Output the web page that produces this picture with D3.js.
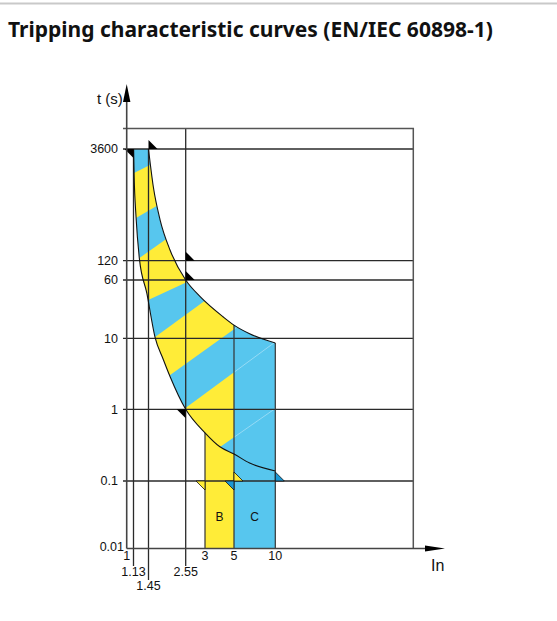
<!DOCTYPE html>
<html><head><meta charset="utf-8">
<script src="https://cdn.jsdelivr.net/npm/d3@7"></script>
<style>
body{margin:0;background:#fff;}
svg{display:block;}
</style></head><body>
<svg id="chart" width="557" height="621"></svg>
<script>
// ---------- data ----------
const title = "Tripping characteristic curves (EN/IEC 60898-1)";
const yAxisTitle = "t (s)";
const xAxisTitle = "In";
const xTickValues = [1, 1.13, 1.45, 2.55, 3, 5, 10];
const xTickLabels = ["1", "1.13", "1.45", "2.55", "3", "5", "10"];
const xTickRows   = [0, 1, 2, 1, 0, 0, 0];
const yTickValues = [3600, 120, 60, 10, 1, 0.1, 0.01];
const yTickLabels = ["3600", "120", "60", "10", "1", "0.1", "0.01"];
// lower (non-tripping) limit of thermal band, [I/In, t s]
const leftCurve = [[1.13,3600],[1.14,1730],[1.18,440],[1.245,130],[1.41,40],[1.6,10.4],[1.82,4.95],[2.01,2.9],[2.55,1],[3,0.47],[3.9,0.3],[5,0.238],[6.5,0.178],[10,0.138]];
// upper (tripping) limit of thermal band
const rightCurve = [[1.45,3600],[1.56,1140],[1.73,414],[2.01,166],[2.55,60],[2.88,36],[4.12,19.4],[5,15],[6.5,11.5],[10,8.6]];
// diagonal stripe boundaries inside the band (B / C overlap)
const stripeBounds = [
  [[1.14,1730],[1.445,2150]],
  [[1.18,440],[1.6,615]],
  [[1.245,130],[1.815,218]],
  [[1.445,32.4],[2.58,56.4]],
  [[1.6,10.4],[2.95,30.5]],
  [[2.01,3.04],[4.91,12.9]],
  [[2.52,1.03],[4.91,3.24]],
  [[3.91,0.298],[4.91,0.398]]
];
const curveB = {label: "B", from: 3, to: 5};
const curveC = {label: "C", from: 5, to: 10};
// reference lines [I, row of label]
const refLines = [[1.13, 1], [1.45, 2], [2.55, 1]];
// markers: [I, t, shape, colour]
const markers = [
  [1.13, 3600, "down", "black"],
  [1.45, 3600, "up", "black"],
  [2.55, 120, "up", "black"],
  [2.55, 60, "up", "black"],
  [2.55, 1, "down", "black"],
  [3, 0.1, "down", "yellow"],
  [5, 0.1, "down", "blue"],
  [5, 0.1, "up", "yellow"],
  [10, 0.1, "up", "blue"]
];

// ---------- style ----------
const YELLOW = "#ffec38", BLUE = "#57c6ee", DBLUE = "#1b98d5";
const NARROW = "'Liberation Sans Narrow','Arial Narrow','Liberation Sans',Arial,sans-serif";

const svg = d3.select("#chart");
const x = d3.scaleLog().domain([1, 1.13, 1.45, 2.55, 3, 5, 10, 100])
  .range([126.7, 133.5, 148.5, 185.7, 205, 234, 275.3, 413.3]);
const y = d3.scaleLog().domain([3600, 120, 60, 10, 1, 0.1, 0.01])
  .range([149, 260.7, 280, 338.3, 409.3, 481, 548.5]);
const plotTop = 128.5, xLeft = x(1), xRight = x(100), yBottom = y(0.01);

// top rule + title
svg.append("rect").attr("x",0).attr("y",2.5).attr("width",557).attr("height",2).attr("fill","#c9c9c9");
svg.append("text").attr("x",8).attr("y",37).text(title)
  .attr("font-family","'Noto Sans','Open Sans',sans-serif").attr("font-weight","bold")
  .attr("font-size",21).attr("fill","#111");

const defs = svg.append("defs");
const line = d3.line().x(d=>x(d[0])).y(d=>y(d[1])).curve(d3.curveMonotoneX);
const areaUnder = d3.area().x(d=>x(d[0])).y0(yBottom).y1(d=>y(d[1])).curve(d3.curveMonotoneX);

// band path between curves
const rightD = line(rightCurve);
const leftRevD = line(leftCurve.slice().reverse());
const bandD = rightD + "L" + leftRevD.slice(1) + "Z";

function clipRect(id, x0, x1) {
  defs.append("clipPath").attr("id", id).append("rect")
    .attr("x", x0).attr("y", 0).attr("width", x1 - x0).attr("height", 621);
}
clipRect("clipB", x(curveB.from), x(curveB.to));
clipRect("clipC", x(curveC.from), x(curveC.to));
clipRect("clipBand", 0, x(curveB.to));
defs.append("clipPath").attr("id","bandShape").append("path").attr("d", bandD);

// C-only region
svg.append("path").attr("d", areaUnder(rightCurve)).attr("fill", BLUE).attr("clip-path","url(#clipC)");
// B-only region
svg.append("path").attr("d", areaUnder(leftCurve)).attr("fill", YELLOW).attr("clip-path","url(#clipB)");

// overlap band with stripes
function extend(b, xa, xb) {
  const x1 = x(b[0][0]), y1 = y(b[0][1]), x2 = x(b[1][0]), y2 = y(b[1][1]);
  const m = (y2 - y1) / (x2 - x1);
  return [[xa, y1 + m*(xa - x1)], [xb, y1 + m*(xb - x1)]];
}
const gBand = svg.append("g").attr("clip-path","url(#bandShape)")
  .append("g").attr("clip-path","url(#clipBand)");
gBand.append("path").attr("d", bandD).attr("fill", BLUE);
for (let k = 0; k + 1 < stripeBounds.length; k += 2) {
  const a = extend(stripeBounds[k], 110, 245), b = extend(stripeBounds[k+1], 110, 245);
  gBand.append("path").attr("d", d3.line()([a[0], a[1], b[1], b[0]]) + "Z").attr("fill", YELLOW);
}
// faint seams continuing in C region
const gSeam = svg.append("g").attr("clip-path","url(#bandShape)")
  .append("g").attr("clip-path","url(#clipC)");
stripeBounds.forEach(b => {
  const s = extend(b, 200, 300);
  gSeam.append("line").attr("x1", s[0][0]).attr("y1", s[0][1]).attr("x2", s[1][0]).attr("y2", s[1][1])
    .attr("stroke", "#a6e0f6").attr("stroke-width", 0.8);
});

// grid lines
const grid = svg.append("g").attr("stroke","#2a2a2a").attr("stroke-width",1.3);
yTickValues.slice(0, -1).forEach(v => {
  grid.append("line").attr("x1", 123).attr("x2", xRight).attr("y1", y(v)).attr("y2", y(v));
});
const box = svg.append("g").attr("stroke","#555").attr("stroke-width",1.5).attr("fill","none");
box.append("path").attr("d", `M123,${plotTop}H${xRight}V${yBottom}`);

// reference vertical lines
const rowY = [560, 576, 590];
refLines.forEach(r => {
  const top = r[0] === 2.55 ? plotTop : y(3600);
  grid.append("line").attr("x1", x(r[0])).attr("x2", x(r[0]))
    .attr("y1", top).attr("y2", rowY[r[1]] - 10);
});

// vertical limits of B and C
const tAt = (arr, I) => arr.find(d => d[0] === I)[1];
const edges = svg.append("g").attr("stroke","#333").attr("stroke-width",1.2);
[[curveB.from, tAt(leftCurve, curveB.from)], [curveB.to, tAt(rightCurve, curveB.to)], [curveC.to, tAt(rightCurve, curveC.to)]]
  .forEach(e => edges.append("line").attr("x1", x(e[0])).attr("x2", x(e[0])).attr("y1", y(e[1])).attr("y2", yBottom));

// curves
svg.append("path").attr("d", line(leftCurve)).attr("fill","none").attr("stroke","#111").attr("stroke-width",1.1);
svg.append("path").attr("d", line(rightCurve)).attr("fill","none").attr("stroke","#111").attr("stroke-width",1.1);

// markers
const mcol = {black: "#000", yellow: YELLOW, blue: DBLUE};
markers.forEach(m => {
  const px = x(m[0]), py = y(m[1]), s = 9;
  const pts = m[2] === "down" ? [[px - s, py], [px, py], [px, py + s]] : [[px, py - s], [px, py], [px + s, py]];
  svg.append("path").attr("d", d3.line()(pts) + "Z").attr("fill", mcol[m[3]])
    .attr("stroke", "#111").attr("stroke-width", m[3] === "black" ? 0 : 0.8);
});

// axes
const ax = svg.append("g").attr("stroke","#444").attr("stroke-width",1.6);
ax.append("line").attr("x1", xLeft).attr("x2", xLeft).attr("y1", 92).attr("y2", yBottom);
ax.append("line").attr("x1", xLeft).attr("x2", 430).attr("y1", yBottom).attr("y2", yBottom);
svg.append("path").attr("d", `M${xLeft},84L${xLeft-3.7},102L${xLeft+3.7},102Z`).attr("fill","#000");
svg.append("path").attr("d", `M445,${yBottom}L425,${yBottom-3}L425,${yBottom+3}Z`).attr("fill","#000");

// tick labels
const tl = svg.append("g").attr("font-family", NARROW).attr("font-size", 12.5).attr("fill","#111");
yTickValues.forEach((v, i) => {
  const last = v === 0.01;
  tl.append("text").attr("x", last ? 124 : 118).attr("y", last ? y(v) - 2 : y(v))
    .attr("dy", "0.35em").attr("text-anchor", "end").text(yTickLabels[i]);
});
xTickValues.forEach((v, i) => {
  tl.append("text").attr("x", x(v)).attr("y", rowY[xTickRows[i]]).attr("text-anchor", "middle").text(xTickLabels[i]);
});
svg.append("text").attr("x", 97).attr("y", 104).text(yAxisTitle)
  .attr("font-family", "'Liberation Sans',Arial,sans-serif").attr("font-size", 15).attr("fill","#111");
svg.append("text").attr("x", 431).attr("y", 571).text(xAxisTitle)
  .attr("font-family", NARROW).attr("font-size", 16).attr("fill","#111");
// curve letters
[curveB, curveC].forEach(c => {
  svg.append("text").attr("x", x(Math.sqrt(c.from * c.to))).attr("y", 517).attr("dy","0.35em")
    .attr("text-anchor","middle").attr("font-family", "'Liberation Sans',Arial,sans-serif")
    .attr("font-size", 12).attr("fill","#111").text(c.label);
});
</script>
</body></html>
